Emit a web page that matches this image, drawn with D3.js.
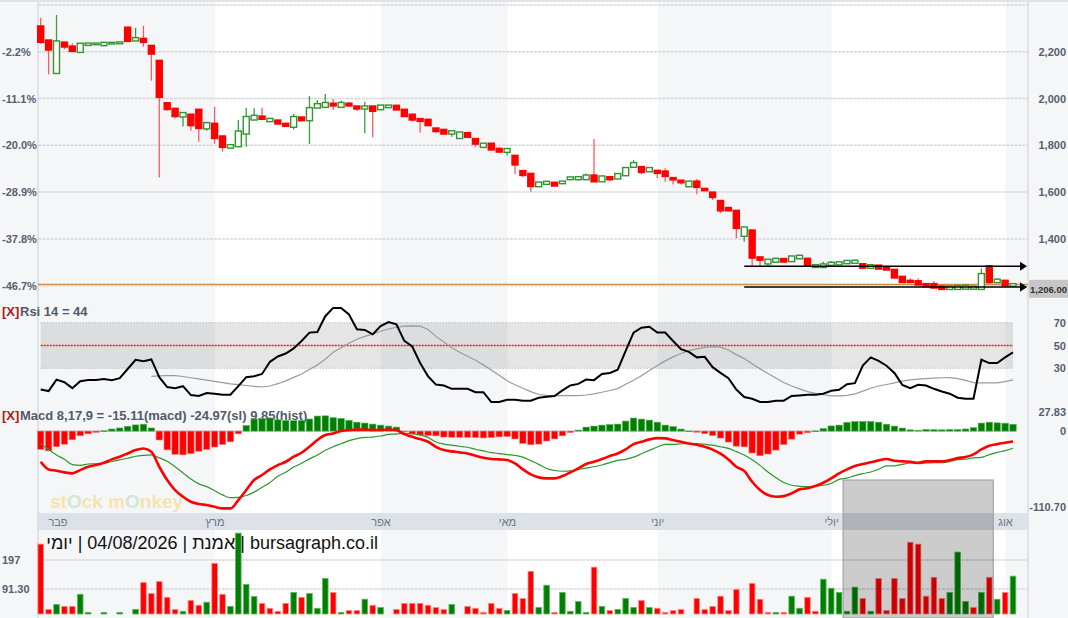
<!DOCTYPE html>
<meta charset="utf-8">
<html lang="he">
<style>
body { margin: 0; background: #fff; }
svg { display: block; font-family: "Liberation Sans", Arial, sans-serif; }
.grid { stroke: #d3d7dc; stroke-width: 1.5px; stroke-dasharray: 3,1; fill: none; }
.lbl { font-size: 11px; font-weight: bold; fill: #56606d; }
.strip { font-size: 11px; fill: #6b7786; }
.tag { font-size: 13px; font-weight: bold; fill: #4f5b6a; }
.x { font-size: 13px; font-weight: bold; fill: #b01818; }
</style>
<body>
<svg id="chart" width="1068" height="618"></svg>

<script src="https://d3js.org/d3.v7.min.js"></script>
<script>
// daily candles, 124 sessions Feb -> 04/08
var openP = [2307,2247,2110,2238,2221,2200,2230,2233,2229,2236,
  2237,2302,2249,2254,2224,2160,1979,1955,1924,1930,
  1951,1873,1891,1837,1791,1797,1851,1911,1922,1904,
  1905,1891,1880,1918,1908,1962,1965,1977,1965,1977,
  1965,1958,1965,1955,1964,1968,1951,1930,1911,1908,
  1871,1865,1851,1832,1851,1826,1794,1806,1784,1773,
  1754,1689,1677,1626,1636,1639,1639,1656,1656,1656,
  1670,1647,1663,1659,1673,1709,1706,1690,1690,1687,
  1659,1648,1626,1644,1613,1597,1561,1531,1519,1414,
  1435,1320,1296,1303,1313,1306,1318,1314,1281,1281,
  1290,1292,1297,1299,1291,1277,1285,1278,1267,1237,
  1220,1218,1206,1206,1196,1187,1187,1188,1188,1187,
  1282,1216,1220,1201];
var highP = [2345,2250,2357,2238,2236,2236,2236,2235,2238,2238,
  2240,2302,2302,2311,2224,2160,1979,1955,1937,1930,
  1951,1901,1965,1837,1800,1908,1961,1958,1961,1912,
  1905,1891,1934,1918,2011,1994,2019,1998,1991,1985,
  1965,1986,1965,1969,1969,1968,1951,1930,1911,1915,
  1871,1865,1859,1854,1851,1826,1806,1806,1791,1783,
  1754,1689,1677,1640,1643,1639,1644,1662,1663,1680,
  1827,1666,1663,1676,1702,1737,1706,1702,1690,1702,
  1659,1648,1644,1656,1613,1597,1561,1538,1519,1448,
  1435,1320,1310,1314,1313,1324,1327,1314,1287,1302,
  1306,1299,1305,1311,1291,1287,1285,1278,1267,1237,
  1232,1232,1206,1220,1196,1201,1198,1199,1195,1274,
  1282,1233,1220,1211];
var lowP = [2233,2103,2110,2210,2204,2200,2228,2232,2229,2235,
  2236,2247,2249,2221,2076,1662,1948,1914,1880,1862,
  1815,1862,1806,1773,1791,1794,1794,1911,1914,1904,
  1894,1884,1868,1908,1806,1962,1965,1951,1965,1971,
  1947,1851,1834,1955,1964,1954,1922,1901,1854,1882,
  1851,1851,1837,1832,1837,1794,1794,1783,1774,1756,
  1676,1663,1602,1626,1636,1629,1639,1656,1656,1656,
  1643,1647,1647,1659,1673,1709,1676,1690,1659,1644,
  1633,1633,1626,1591,1609,1566,1510,1523,1403,1388,
  1284,1284,1284,1303,1304,1306,1318,1285,1281,1281,
  1290,1292,1297,1299,1278,1277,1274,1267,1236,1217,
  1209,1206,1199,1193,1187,1187,1187,1188,1188,1187,
  1216,1216,1202,1199];
var closeP = [2243,2210,2243,2223,2204,2233,2234,2234,2237,2237,
  2239,2247,2257,2243,2193,2008,1956,1926,1937,1887,
  1875,1894,1832,1794,1800,1858,1920,1925,1914,1912,
  1894,1884,1920,1908,1958,1975,1980,1971,1980,1971,
  1958,1965,1948,1969,1969,1954,1926,1911,1905,1887,
  1862,1851,1859,1854,1837,1808,1806,1783,1774,1783,
  1719,1674,1627,1640,1643,1629,1644,1662,1663,1670,
  1647,1666,1656,1676,1702,1723,1687,1702,1683,1670,
  1655,1643,1644,1623,1609,1580,1523,1523,1448,1448,
  1321,1312,1310,1314,1304,1324,1327,1288,1287,1290,
  1297,1299,1305,1306,1278,1287,1274,1270,1236,1217,
  1217,1206,1199,1193,1187,1196,1198,1199,1195,1249,
  1216,1225,1202,1206];
var volume = [255,17,35,28,28,72,6,0,6,0,
  6,0,17,115,75,119,61,17,10,50,
  32,43,185,72,28,295,108,64,39,21,
  10,39,79,61,75,21,130,79,6,13,
  13,54,32,24,0,17,39,39,39,32,
  24,17,35,0,28,21,6,39,21,13,
  75,57,156,24,105,6,79,10,46,6,
  171,28,13,17,57,24,50,24,21,6,
  13,17,0,57,17,28,65,13,90,0,
  112,54,6,6,6,65,21,61,10,127,
  94,79,10,98,57,10,130,13,130,57,
  262,255,65,134,57,79,226,46,24,79,
  134,54,79,138];
var rsi = [11.4,10,20.1,17.8,12.6,18.7,19.8,19.8,20.7,19.6,
  21.3,29.4,37.5,36.1,37.8,22.2,13.5,12.6,14.3,6.5,
  5.7,8.3,7.7,6.8,6.8,14.3,22.2,23,25,35.7,
  40.4,43,47.4,54,61.3,61.8,75.7,83,83,77.2,
  64.2,63.6,59.8,67,70.5,68.5,54,49.1,34.6,23,
  15.7,14.9,12,12,12,9.1,9.1,0.4,0.4,2.4,
  2.4,1.6,1.6,4.2,5,5.7,10.6,14.9,16.3,20.1,
  19.6,25,25.9,28.8,45.3,61.3,65.6,66.5,61.3,61.3,
  54,46.8,44.4,39.6,40.1,31,26,21.3,11.4,4.8,
  3.3,0.4,0.4,1.6,1.6,5.7,6.2,6.8,6.8,7.7,
  10.3,11.1,16,17,32.3,39.6,36.6,32.3,25.9,15.5,
  12.6,15.5,14.9,12,9.7,7.7,4.2,3.3,3.3,37.5,
  34.6,34.6,39.6,44];
var rsiSignal = [null,null,null,null,null,null,null,null,null,null,
  null,null,null,null,23,23.3,23.5,23.6,22.8,21.7,
  20.7,19.6,18.5,17.4,16.4,15.6,14.9,14.2,13.6,14.5,
  16.5,19,22,25,29,33,38,44,48,52,
  55.5,58,60,62.5,64.5,66,67,67.3,67,64,
  58,53,48,44,40.5,37,33,28.5,24,19,
  15.5,12.5,9.5,7,6.3,6.1,6,6,6.1,6.6,
  7.5,9,10.5,12.2,16,19.5,23.5,28,32.5,36.5,
  40,43,45.5,47,48.3,49,48.6,46,42,38.5,
  34,29.5,25.5,21.5,17.5,14.5,12,9.5,8,6.8,
  5.8,5.8,6.2,7.5,10,12.5,14.5,15.8,17.2,18.7,
  19.8,20.5,21,21.4,21.7,21.8,21,19.4,17.4,17.2,
  17.2,17.3,18.3,19.8];
var macdLine = [-44.7,-55.9,-57.8,-60.2,-61.7,-56.9,-52,-49.6,-46.2,-41.3,
  -37.4,-32.6,-27.7,-25.3,-30.1,-52,-71.4,-86,-95.7,-103,
  -106.4,-107.9,-110.3,-112.7,-112.7,-100.6,-86,-71.4,-64.1,-55.9,
  -49.6,-44.7,-37.4,-31.6,-22.9,-13.1,-5.8,-3.4,0,1.5,
  2,2.4,1.5,1.5,2.4,1.5,-4.5,-8.3,-11.7,-15.6,
  -22.9,-27.7,-29.6,-31.1,-32.6,-36,-38.9,-40.8,-41.3,-42.3,
  -47.1,-55.9,-63.1,-67.5,-69,-69,-65.6,-60.2,-54.4,-48.1,
  -44.7,-40.8,-36.4,-32.6,-26.7,-19,-15.6,-12.1,-10.2,-10.6,
  -13.1,-15.6,-18,-20,-23,-27,-33,-41.3,-52,-58,
  -73.9,-86,-93.3,-95.8,-94.8,-90.8,-85,-83.5,-80.2,-75.4,
  -69,-61.7,-55.9,-51,-48.1,-45.6,-42.7,-40.8,-43.3,-44.2,
  -44.7,-46.2,-44.2,-44.2,-44.2,-42.3,-39.4,-37.9,-34,-26.7,
  -21.4,-19,-17,-15.1];
var macdSignal = [-18,-27,-35,-41,-49,-50,-48,-47.6,-46.7,-44.3,
  -41.9,-39.6,-36.7,-35.3,-34.6,-39,-44,-52,-61,-70,
  -77,-81,-87,-93,-97,-96.6,-94,-89,-82,-75,
  -66,-60,-52.5,-47,-40.5,-35,-28,-22.9,-18.5,-14,
  -11,-9.3,-8.7,-7.2,-4.9,-4.3,-3.2,-3.9,-5.9,-9.1,
  -15.9,-19,-20.6,-22.1,-23.6,-26.5,-28.9,-31.3,-32.8,-34.3,
  -35.6,-37.9,-43.1,-48.5,-54.5,-57.5,-58.6,-58,-55.9,-53.9,
  -52,-49.5,-45.9,-42.8,-41.3,-38,-33.1,-28.1,-23.2,-19.3,
  -19.5,-18.5,-18.2,-18.3,-19.2,-20.5,-22.8,-25.3,-30,-35,
  -41.9,-50,-59.8,-68,-75,-79,-80.5,-81,-80.5,-79,
  -76.5,-70.4,-68.5,-65,-62.1,-59.6,-55.7,-50.8,-50.6,-48.6,
  -46.5,-47.5,-46.5,-46.2,-46,-44.5,-41.5,-41,-39,-38.4,
  -34.4,-31,-28.5,-25];

// month names and the session index where each month begins
var monthNames = ["פבר", "מרץ", "אפר", "מאי", "יוני", "יולי", "אוג"];
var monthStart = [0, 22, 43, 59, 78, 100, 122];

var priceGrid = [2400, 2200, 2000, 1800, 1600, 1400, 1200];
var priceRightTicks = [2200, 2000, 1800, 1600, 1400];
var pctTicks = [2200, 2000, 1800, 1600, 1400, 1200];
var basePrice = 2249.5;
var rsiTicks = [70, 50, 30];
var macdTicks = [27.83, 0, -110.70];
var macdTickLabels = ["27.83", "0", "-110.70"];
var volTicks = [197, 91.30];
var volTickLabels = ["197", "91.30"];

var lastPrice = 1206;
var levelLines = [1283, 1194];   // drawn horizontal lines
var levelFrom = 89;              // session where they begin
var selFrom = 101.5, selTo = 120.5;  // grey selection box, in sessions

var rsiLabel = "Rsi 14 = 44";
var macdLabel = "Macd 8,17,9 = -15.11(macd) -24.97(sl) 9.85(hist)";
var titleText = "bursagraph.co.il | אמנת | 04/08/2026 | יומי";

var W = 1068, H = 618, plotL = 38, plotR = 1028;
var svg = d3.select("#chart");
var n = closeP.length;

var x = d3.scaleLinear().domain([0, n - 1]).range([40.7, 1013]);
var yP = d3.scaleLinear().domain([1200, 2400]).range([285.7, 4.9]);
var yR = d3.scaleLinear().domain([30, 70]).range([368.3, 322.7]);
var yM = d3.scaleLinear().domain([-110.7, 27.83]).range([507, 412]);
var yV = d3.scaleLinear().domain([0, 197]).range([614, 560]);

// plain hyphen instead of the unicode minus d3 uses
function hy(s) { return s.replace("\u2212", "-"); }

// background + month bands
svg.append("rect").attr("width", W).attr("height", H).attr("fill", "#f5f6f8");
svg.append("rect").attr("x", plotL).attr("y", 0).attr("width", plotR - plotL).attr("height", H).attr("fill", "#fff");
function bandX(i) { return i == 0 ? plotL : x(monthStart[i]) + 0.4; }
monthNames.forEach(function(m, i) {
  if (i % 2) return;
  var x1 = i < monthNames.length - 1 ? bandX(i + 1) : plotR;
  svg.append("rect").attr("x", bandX(i)).attr("y", 0)
    .attr("width", x1 - bandX(i)).attr("height", H).attr("fill", "#f5f6f8");
});
svg.append("line").attr("x1", 0).attr("x2", W).attr("y1", 1).attr("y2", 1).attr("stroke", "#dfe2e6").attr("stroke-width", 2);
svg.append("line").attr("x1", plotL).attr("x2", plotL).attr("y1", 0).attr("y2", H).attr("stroke", "#dfe2e6").attr("stroke-width", 2);
svg.append("line").attr("x1", plotR).attr("x2", plotR).attr("y1", 0).attr("y2", H).attr("stroke", "#dfe2e6").attr("stroke-width", 2);

// gridlines
svg.selectAll(".pg").data(priceGrid).enter().append("line").attr("class", "grid")
  .attr("x1", plotL).attr("x2", plotR).attr("y1", yP).attr("y2", yP);
svg.selectAll(".vg").data(volTicks).enter().append("line").attr("class", "grid")
  .attr("stroke-width", 1).attr("stroke-dasharray", "2,3")
  .attr("x1", plotL).attr("x2", plotR).attr("y1", yV).attr("y2", yV);

function sideAxis(gen, tx, vals, fmt) {
  var g = svg.append("g").attr("transform", "translate(" + tx + ",0)")
    .call(gen.tickValues(vals).tickSize(0).tickPadding(0).tickFormat(fmt));
  g.select(".domain").remove();
  g.selectAll("text").attr("class", "lbl");
  return g;
}
sideAxis(d3.axisRight(yP), 2, pctTicks, function(d) { return hy(d3.format(".1f")((d / basePrice - 1) * 100)) + "%"; });
sideAxis(d3.axisLeft(yP), 1066, priceRightTicks, d3.format(","));
sideAxis(d3.axisLeft(yR), 1066, rsiTicks, d3.format("d"));
sideAxis(d3.axisLeft(yM), 1066, macdTicks, function(d, i) { return macdTickLabels[i]; });
sideAxis(d3.axisRight(yV), 2, volTicks, function(d, i) { return volTickLabels[i]; });

// price line
svg.append("line").attr("x1", plotL).attr("x2", plotR)
  .attr("y1", yP(lastPrice)).attr("y2", yP(lastPrice))
  .attr("stroke", "#d08a4a").attr("stroke-width", 1.2);

// candles
var idx = d3.range(n);
var cg = svg.append("g");
cg.selectAll(".wick").data(idx).enter().append("line")
  .attr("x1", x).attr("x2", x)
  .attr("y1", function(i) { return yP(highP[i]); })
  .attr("y2", function(i) { return yP(lowP[i]); })
  .attr("stroke", function(i) { return closeP[i] >= openP[i] ? "#3d9b3d" : "#ff5a5a"; })
  .attr("stroke-width", 1.3);
cg.selectAll(".body").data(idx).enter().append("rect")
  .attr("x", function(i) { return x(i) - 3; })
  .attr("width", 6)
  .attr("y", function(i) { return yP(Math.max(openP[i], closeP[i])) - 0.7; })
  .attr("height", function(i) { return Math.abs(yP(openP[i]) - yP(closeP[i])) + 1.4; })
  .attr("fill", function(i) { return closeP[i] >= openP[i] ? "#fff" : "#ff0000"; })
  .attr("stroke", function(i) { return closeP[i] >= openP[i] ? "#2f952f" : "#ff0000"; })
  .attr("stroke-width", 1.4);

// drawn level lines with arrows
levelLines.forEach(function(p) {
  var yy = yP(p), xe = plotR - 8;
  svg.append("line").attr("x1", x(levelFrom)).attr("x2", xe).attr("y1", yy).attr("y2", yy)
    .attr("stroke", "#000").attr("stroke-width", 1.5);
  svg.append("path").attr("d", "M" + xe + "," + (yy - 4.5) + "L" + (xe + 7) + "," + yy + "L" + xe + "," + (yy + 4.5) + "Z")
    .attr("fill", "#000");
});

// last price tag
svg.append("rect").attr("x", plotR + 1).attr("y", yP(lastPrice) - 4.5).attr("width", W - plotR - 1).attr("height", 18)
  .attr("fill", "#c6c6c6");
svg.append("text").attr("x", plotR + 2).attr("y", yP(lastPrice) + 8.5)
  .attr("font-size", 9.5).attr("font-weight", "bold").attr("fill", "#333")
  .text(d3.format(",.2f")(lastPrice));
// arrow tip of the lower line sits over the tag
svg.append("path").attr("d", "M" + (plotR - 8) + "," + (yP(levelLines[1]) - 4.5) + "L" + (plotR - 1) + "," + yP(levelLines[1]) + "L" + (plotR - 8) + "," + (yP(levelLines[1]) + 4.5) + "Z")
  .attr("fill", "#000");

// RSI panel
svg.append("text").attr("x", 2).attr("y", 316).attr("class", "x").text("[X]");
svg.append("text").attr("x", 20).attr("y", 316).attr("class", "tag").text(rsiLabel);
svg.append("rect").attr("x", x(0)).attr("width", x(n - 1) - x(0))
  .attr("y", yR(70)).attr("height", yR(30) - yR(70)).attr("fill", "rgba(0,0,0,0.1)");
[70, 30].forEach(function(v) {
  svg.append("line").attr("x1", x(0)).attr("x2", x(n - 1)).attr("y1", yR(v)).attr("y2", yR(v))
    .attr("stroke", "#a8a8a8").attr("stroke-width", 1).attr("stroke-dasharray", "1,2");
});
svg.append("line").attr("x1", x(0)).attr("x2", x(n - 1)).attr("y1", yR(50)).attr("y2", yR(50))
  .attr("stroke", "#ff1a1a").attr("stroke-width", 1.3).attr("stroke-dasharray", "2,1");
svg.append("path").datum(rsiSignal)
  .attr("d", d3.line().defined(function(d) { return d != null; }).x(function(d, i) { return x(i); }).y(yR))
  .attr("fill", "none").attr("stroke", "#9a9a9a").attr("stroke-width", 1.2);
svg.append("path").datum(rsi)
  .attr("d", d3.line().x(function(d, i) { return x(i); }).y(yR))
  .attr("fill", "none").attr("stroke", "#000").attr("stroke-width", 2);

// MACD panel
svg.append("text").attr("x", 2).attr("y", 420).attr("class", "x").text("[X]");
svg.append("text").attr("x", 20).attr("y", 420).attr("class", "tag").text(macdLabel);
svg.append("line").attr("x1", x(0) - 3).attr("x2", x(n - 1) + 3).attr("y1", yM(0)).attr("y2", yM(0))
  .attr("stroke", "#b5b9bf").attr("stroke-width", 1);
var hist = macdLine.map(function(m, i) { return m - macdSignal[i]; });
svg.selectAll(".hist").data(hist).enter().append("rect")
  .attr("x", function(d, i) { return x(i) - 3.2; })
  .attr("width", 6.4)
  .attr("y", function(d) { return d >= 0 ? yM(d) : yM(0); })
  .attr("height", function(d) { return Math.max(0.8, Math.abs(yM(d) - yM(0))); })
  .attr("fill", function(d) { return d >= 0 ? "#008000" : "#ff0000"; })
  .attr("stroke", function(d) { return d >= 0 ? "#55aa55" : "#ff8080"; })
  .attr("stroke-width", 0.6);
svg.append("path").datum(macdSignal)
  .attr("d", d3.line().curve(d3.curveMonotoneX).x(function(d, i) { return x(i); }).y(yM))
  .attr("fill", "none").attr("stroke", "#2e962e").attr("stroke-width", 1.2);
svg.append("path").datum(macdLine)
  .attr("d", d3.line().curve(d3.curveMonotoneX).x(function(d, i) { return x(i); }).y(yM))
  .attr("fill", "none").attr("stroke", "#ff0000").attr("stroke-width", 2.6);

// watermark
var wm = svg.append("text").attr("x", 50).attr("y", 508)
  .attr("font-size", 19).attr("font-weight", "bold").attr("fill", "#f6e2a4").attr("opacity", 0.85);
[["st", "#f6e2a4"], ["O", "#cfe4cf"], ["ck m", "#f6e2a4"], ["O", "#cfe4cf"], ["nkey", "#f6e2a4"]].forEach(function(p) {
  wm.append("tspan").attr("fill", p[1]).text(p[0]);
});

// date strip
svg.append("rect").attr("x", plotL).attr("y", 513).attr("width", plotR - plotL).attr("height", 17).attr("fill", "#dde2e9");
svg.selectAll(".mlab").data(monthNames).enter().append("text").attr("class", "strip")
  .attr("x", function(d, i) { return Math.max(58, bandX(i)); })
  .attr("y", 526).attr("text-anchor", "middle").text(function(d) { return d; });

// volume
function volUp(i) { return closeP[i] > (i ? closeP[i - 1] : openP[i]); }
svg.selectAll(".vol").data(volume).enter().append("rect")
  .attr("x", function(d, i) { return x(i) - 2.8; })
  .attr("width", 5.6)
  .attr("y", function(d) { return yV(d); })
  .attr("height", function(d) { return yV(0) - yV(d); })
  .attr("display", function(d) { return d > 0 ? null : "none"; })
  .attr("fill", function(d, i) { return volUp(i) ? "#008000" : "#ff0000"; })
  .attr("stroke", function(d, i) { return volUp(i) ? "#66b566" : "#ff9090"; })
  .attr("stroke-width", 0.8);

// title, right-to-left
svg.append("clipPath").attr("id", "tclip").append("rect").attr("x", plotL + 1).attr("y", 520).attr("width", 600).attr("height", 50);
svg.append("text").attr("clip-path", "url(#tclip)")
  .attr("x", 378).attr("y", 549)
  .attr("direction", "rtl").style("unicode-bidi", "embed")
  .attr("font-size", 18).attr("fill", "#111")
  .text(titleText);

// selection box
svg.append("rect").attr("x", x(selFrom)).attr("y", 480)
  .attr("width", x(selTo) - x(selFrom)).attr("height", H - 480)
  .attr("fill", "rgba(0,0,0,0.2)").attr("stroke", "#999").attr("stroke-width", 1);
</script>
</body>
</html>
